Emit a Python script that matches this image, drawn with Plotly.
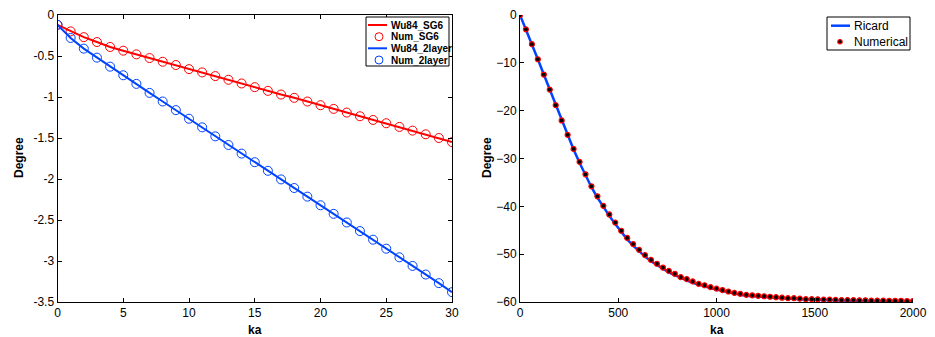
import numpy as np
import plotly.graph_objects as go

# ---------------- data ----------------
ka_left = list(range(0, 31))
wu84_sg6 = [-0.12, -0.20, -0.27, -0.33, -0.39, -0.435, -0.48, -0.525, -0.57, -0.61,
            -0.66, -0.70, -0.745, -0.79, -0.835, -0.88, -0.925, -0.97, -1.01, -1.055,
            -1.10, -1.145, -1.19, -1.235, -1.28, -1.32, -1.365, -1.41, -1.455, -1.50, -1.55]
num_sg6 = list(wu84_sg6)
wu84_2layer = [-0.12, -0.28, -0.41, -0.52, -0.63, -0.735, -0.84, -0.95, -1.055, -1.16,
               -1.265, -1.37, -1.48, -1.585, -1.69, -1.795, -1.90, -2.005, -2.11, -2.215,
               -2.32, -2.425, -2.53, -2.635, -2.74, -2.85, -2.955, -3.06, -3.165, -3.27, -3.38]
num_2layer = list(wu84_2layer)

ka_right = np.linspace(0, 2000, 67)
numerical = [0, -3.0, -6.1, -9.25, -12.45, -15.6, -18.85, -22.05, -25.05, -28.0,
             -30.7, -33.3, -35.8, -37.9, -39.9, -41.7, -43.4, -45.1, -46.6, -47.9,
             -49.1, -50.2, -51.2, -52.0, -52.8, -53.5, -54.1, -54.8, -55.2, -55.7,
             -56.2, -56.5, -56.9, -57.2, -57.5, -57.8, -58.1, -58.3, -58.5, -58.6,
             -58.7, -58.8, -58.9, -59.0, -59.1, -59.2, -59.2, -59.3, -59.4, -59.4,
             -59.45, -59.5, -59.5, -59.55, -59.6, -59.6, -59.6, -59.65, -59.65, -59.7,
             -59.7, -59.7, -59.75, -59.75, -59.75, -59.8, -59.8]
ricard = [0, -3.0, -6.1, -9.25, -12.45, -15.6, -18.85, -22.05, -25.1, -28.1,
          -30.9, -33.5, -36.0, -38.2, -40.2, -42.0, -43.7, -45.4, -46.9, -48.2,
          -49.4, -50.5, -51.5, -52.3, -53.1, -53.8, -54.4, -55.0, -55.5, -56.0,
          -56.4, -56.8, -57.1, -57.4, -57.7, -58.0, -58.3, -58.5, -58.7, -58.8,
          -58.9, -59.0, -59.1, -59.2, -59.3, -59.35, -59.4, -59.45, -59.5, -59.55,
          -59.6, -59.6, -59.65, -59.65, -59.7, -59.7, -59.75, -59.75, -59.75, -59.8,
          -59.8, -59.8, -59.85, -59.85, -59.85, -59.9, -59.9]

left_legend_labels = ["Wu84_SG6", "Num_SG6", "Wu84_2layer", "Num_2layer"]
right_legend_labels = ["Ricard", "Numerical"]

RED = "#ff0000"
BLUE = "#0044ff"
FONT = "Liberation Sans, Arial, sans-serif"
W, H = 935, 337

fig = go.Figure()

# ---------------- left panel ----------------
fig.add_trace(go.Scatter(x=ka_left, y=wu84_sg6, mode="lines", name=left_legend_labels[0],
                         line=dict(color=RED, width=2), xaxis="x", yaxis="y"))
fig.add_trace(go.Scatter(x=ka_left, y=num_sg6, mode="markers", name=left_legend_labels[1],
                         marker=dict(symbol="circle-open", size=9, color=RED, line=dict(width=1)),
                         xaxis="x", yaxis="y"))
fig.add_trace(go.Scatter(x=ka_left, y=wu84_2layer, mode="lines", name=left_legend_labels[2],
                         line=dict(color=BLUE, width=2), xaxis="x", yaxis="y"))
fig.add_trace(go.Scatter(x=ka_left, y=num_2layer, mode="markers", name=left_legend_labels[3],
                         marker=dict(symbol="circle-open", size=9, color=BLUE, line=dict(width=1)),
                         xaxis="x", yaxis="y"))

# ---------------- right panel ----------------
fig.add_trace(go.Scatter(x=ka_right, y=ricard, mode="lines", name=right_legend_labels[0],
                         line=dict(color=BLUE, width=2.5), xaxis="x2", yaxis="y2"))
fig.add_trace(go.Scatter(x=ka_right, y=numerical, mode="markers", name=right_legend_labels[1],
                         marker=dict(symbol="circle", size=5, color="black",
                                     line=dict(color=RED, width=1.2)),
                         xaxis="x2", yaxis="y2"))


def px(x):
    return x / W


def py(y):
    return 1 - y / H


axis_common = dict(showgrid=False, zeroline=False, showline=True, linecolor="black",
                   linewidth=1, ticks="inside", ticklen=4, tickcolor="black", automargin=False,
                   tickfont=dict(family=FONT, size=12, color="black"))

fig.update_layout(
    width=W, height=H, margin=dict(l=0, r=0, t=0, b=0),
    paper_bgcolor="white", plot_bgcolor="white",
    font=dict(family=FONT, color="black"),
    showlegend=False,
    xaxis=dict(domain=[px(57.5), px(452)], range=[0, 30], tickvals=[0, 5, 10, 15, 20, 25, 30],
               mirror="allticks", anchor="y", **axis_common),
    yaxis=dict(domain=[py(302), py(15)], range=[-3.5, 0],
               tickvals=[0, -0.5, -1, -1.5, -2, -2.5, -3, -3.5],
               ticktext=["0", "-0.5", "-1", "-1.5", "-2", "-2.5", "-3", "-3.5"],
               mirror="allticks", anchor="x", **axis_common),
    xaxis2=dict(domain=[px(520), px(913)], range=[0, 2000], tickvals=[0, 500, 1000, 1500, 2000],
                anchor="y2", **axis_common),
    yaxis2=dict(domain=[py(302), py(15)], range=[-60, 0], tickvals=[0, -10, -20, -30, -40, -50, -60],
                anchor="x2", **axis_common),
)

# axis titles
for (x, y, t, ang) in [(255, 330, "ka", 0), (717, 330, "ka", 0),
                       (19, 158, "Degree", -90), (487, 158, "Degree", -90)]:
    fig.add_annotation(x=px(x), y=py(y), xref="paper", yref="paper", text=f"<b>{t}</b>",
                       showarrow=False, textangle=ang, xanchor="center", yanchor="middle",
                       font=dict(family=FONT, size=12, color="black"))

# ---------------- custom legends ----------------
shapes = []
# left legend box
shapes.append(dict(type="rect", xref="paper", yref="paper", x0=px(366), x1=px(449),
                   y0=py(66), y1=py(17), line=dict(color="black", width=1),
                   fillcolor="white", layer="above"))
rows = [25, 36.7, 48.3, 60.0]
styles = [("line", RED), ("circle", RED), ("line", BLUE), ("circle", BLUE)]
for (kind, col), yr, lab in zip(styles, rows, left_legend_labels):
    if kind == "line":
        shapes.append(dict(type="line", xref="paper", yref="paper", x0=px(368), x1=px(387),
                           y0=py(yr), y1=py(yr), line=dict(color=col, width=2), layer="above"))
    else:
        r = 4
        shapes.append(dict(type="circle", xref="paper", yref="paper", x0=px(379 - r), x1=px(379 + r),
                           y0=py(yr + r), y1=py(yr - r), line=dict(color=col, width=1), layer="above"))
    fig.add_annotation(x=px(389), y=py(yr), xref="paper", yref="paper", text=f"<b>{lab}</b>",
                       showarrow=False, xanchor="left", yanchor="middle",
                       font=dict(family=FONT, size=10, color="black"))

# right legend box
shapes.append(dict(type="rect", xref="paper", yref="paper", x0=px(827), x1=px(910),
                   y0=py(50), y1=py(17), line=dict(color="black", width=1),
                   fillcolor="white", layer="above"))
shapes.append(dict(type="line", xref="paper", yref="paper", x0=px(831), x1=px(850),
                   y0=py(25.7), y1=py(25.7), line=dict(color=BLUE, width=2.5), layer="above"))
r = 2.2
shapes.append(dict(type="circle", xref="paper", yref="paper", x0=px(840 - r), x1=px(840 + r),
                   y0=py(41.7 + r), y1=py(41.7 - r), line=dict(color=RED, width=1.2),
                   fillcolor="black", layer="above"))
for yr, lab in zip([25.7, 41.7], right_legend_labels):
    fig.add_annotation(x=px(852), y=py(yr), xref="paper", yref="paper", text=lab,
                       showarrow=False, xanchor="left", yanchor="middle",
                       font=dict(family=FONT, size=12, color="black"))

fig.update_layout(shapes=shapes)

fig.write_html("out.html")
